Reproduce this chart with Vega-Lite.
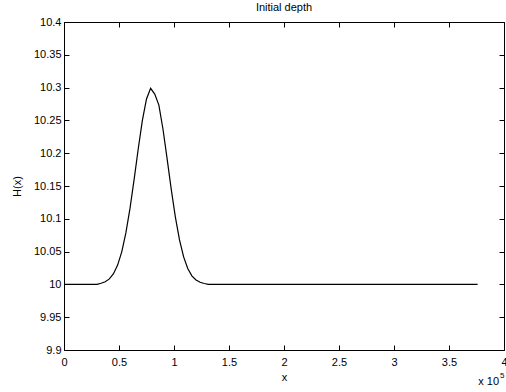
{
  "$schema": "https://vega.github.io/schema/vega-lite/v6.json",
  "width": 440,
  "height": 328,
  "autosize": "none",
  "padding": {"left": 64, "top": 22, "right": 2, "bottom": 42},
  "background": "white",
  "config": {
    "font": "Liberation Sans",
    "view": {"stroke": "black", "strokeWidth": 1},
    "axis": {
      "domain": false,
      "grid": false,
      "tickColor": "black",
      "tickSize": -5,
      "labelColor": "black",
      "labelFont": "Liberation Sans",
      "labelFontSize": 11,
      "titleFont": "Liberation Sans",
      "titleFontSize": 11,
      "titleFontWeight": "normal",
      "titleColor": "black"
    }
  },
  "title": {
    "text": "Initial depth",
    "font": "Liberation Sans",
    "fontSize": 11,
    "fontWeight": "normal",
    "color": "black",
    "offset": 3
  },
  "data": {
    "values": [
      {"x": 0, "h": 10},
      {"x": 0.3, "h": 10},
      {"x": 0.3375, "h": 10.0018},
      {"x": 0.375, "h": 10.0041},
      {"x": 0.4125, "h": 10.0084},
      {"x": 0.45, "h": 10.0163},
      {"x": 0.4875, "h": 10.0294},
      {"x": 0.525, "h": 10.0496},
      {"x": 0.5625, "h": 10.0784},
      {"x": 0.6, "h": 10.1158},
      {"x": 0.6375, "h": 10.16},
      {"x": 0.675, "h": 10.2068},
      {"x": 0.7125, "h": 10.25},
      {"x": 0.75, "h": 10.2827},
      {"x": 0.7875, "h": 10.2989},
      {"x": 0.825, "h": 10.2901},
      {"x": 0.8625, "h": 10.2734},
      {"x": 0.9, "h": 10.2365},
      {"x": 0.9375, "h": 10.1913},
      {"x": 0.975, "h": 10.1448},
      {"x": 1.0125, "h": 10.1025},
      {"x": 1.05, "h": 10.0678},
      {"x": 1.0875, "h": 10.042},
      {"x": 1.125, "h": 10.0243},
      {"x": 1.1625, "h": 10.0131},
      {"x": 1.2, "h": 10.0067},
      {"x": 1.2375, "h": 10.0032},
      {"x": 1.275, "h": 10.0014},
      {"x": 1.3125, "h": 10},
      {"x": 3.76, "h": 10}
    ]
  },
  "layer": [
    {
      "mark": {"type": "line", "color": "black", "strokeWidth": 1.2},
      "encoding": {
        "x": {
          "field": "x",
          "type": "quantitative",
          "scale": {"domain": [0, 4], "nice": false, "zero": false},
          "axis": {
            "title": "x",
            "values": [0, 0.5, 1, 1.5, 2, 2.5, 3, 3.5, 4],
            "format": ".1~f",
            "labelPadding": 11,
            "titlePadding": 4,
            "labelFlush": false
          }
        },
        "y": {
          "field": "h",
          "type": "quantitative",
          "scale": {"domain": [9.9, 10.4], "nice": false, "zero": false},
          "axis": {
            "title": "H(x)",
            "values": [9.9, 9.95, 10, 10.05, 10.1, 10.15, 10.2, 10.25, 10.3, 10.35, 10.4],
            "format": ".2~f",
            "labelPadding": 8,
            "titlePadding": 11,
            "labelFlush": false
          }
        }
      }
    },
    {
      "mark": {"type": "line", "opacity": 0},
      "encoding": {
        "x": {
          "field": "x",
          "type": "quantitative",
          "scale": {"domain": [0, 4], "nice": false, "zero": false},
          "axis": {"orient": "top", "title": null, "labels": false, "values": [0, 0.5, 1, 1.5, 2, 2.5, 3, 3.5, 4]}
        },
        "y": {
          "field": "h",
          "type": "quantitative",
          "scale": {"domain": [9.9, 10.4], "nice": false, "zero": false},
          "axis": {"orient": "right", "title": null, "labels": false, "values": [9.9, 9.95, 10, 10.05, 10.1, 10.15, 10.2, 10.25, 10.3, 10.35, 10.4]}
        }
      }
    },
    {
      "data": {"values": [{"t": "x 10"}]},
      "mark": {"type": "text", "align": "right", "baseline": "alphabetic", "fontSize": 11, "color": "black", "dx": -5, "dy": 35},
      "encoding": {
        "x": {"datum": 4, "type": "quantitative", "axis": null},
        "y": {"datum": 9.9, "type": "quantitative", "axis": null},
        "text": {"field": "t"}
      }
    },
    {
      "data": {"values": [{"t": "5"}]},
      "mark": {"type": "text", "align": "left", "baseline": "alphabetic", "fontSize": 8, "color": "black", "dx": -4, "dy": 28},
      "encoding": {
        "x": {"datum": 4, "type": "quantitative", "axis": null},
        "y": {"datum": 9.9, "type": "quantitative", "axis": null},
        "text": {"field": "t"}
      }
    }
  ],
  "resolve": {"axis": {"x": "independent", "y": "independent"}}
}
